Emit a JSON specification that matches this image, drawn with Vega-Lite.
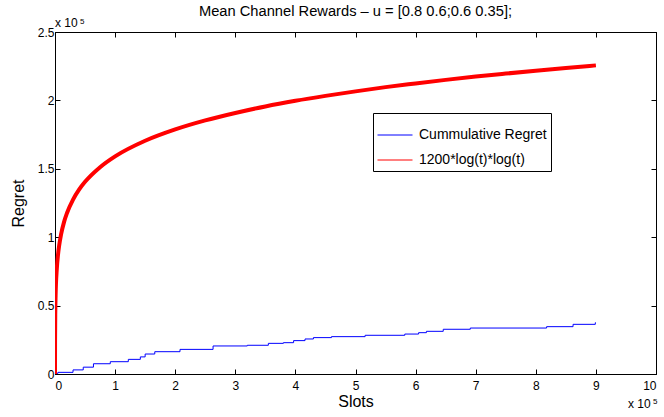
{
  "$schema": "https://vega.github.io/schema/vega-lite/v6.json",
  "width": 601,
  "height": 342,
  "autosize": "none",
  "padding": {"left": 55, "top": 32, "right": 8, "bottom": 43},
  "background": "white",
  "config": {
    "font": "Liberation Sans",
    "view": {"stroke": "black", "strokeWidth": 1},
    "axis": {
      "grid": false,
      "domainColor": "black",
      "tickColor": "black",
      "labelColor": "black",
      "titleColor": "black",
      "labelFont": "Liberation Sans",
      "titleFont": "Liberation Sans",
      "labelFontSize": 12,
      "titleFontSize": 16,
      "titleFontWeight": "normal",
      "tickSize": -5
    },
    "legend": {
      "labelFont": "Liberation Sans"
    }
  },
  "title": {
    "text": "Mean Channel Rewards – u = [0.8 0.6;0.6 0.35];",
    "fontSize": 14.7,
    "fontWeight": "normal",
    "font": "Liberation Sans",
    "color": "black",
    "anchor": "middle",
    "offset": -2
  },
  "datasets": {
    "red": [
      {"x": 0.00001, "y": 0, "series": "1200*log(t)*log(t)"},
      {"x": 0.0001, "y": 0.0636, "series": "1200*log(t)*log(t)"},
      {"x": 0.001, "y": 0.2545, "series": "1200*log(t)*log(t)"},
      {"x": 0.005, "y": 0.4635, "series": "1200*log(t)*log(t)"},
      {"x": 0.01, "y": 0.5726, "series": "1200*log(t)*log(t)"},
      {"x": 0.03, "y": 0.769, "series": "1200*log(t)*log(t)"},
      {"x": 0.05, "y": 0.871, "series": "1200*log(t)*log(t)"},
      {"x": 0.07, "y": 0.941, "series": "1200*log(t)*log(t)"},
      {"x": 0.1, "y": 1.018, "series": "1200*log(t)*log(t)"},
      {"x": 0.15, "y": 1.11, "series": "1200*log(t)*log(t)"},
      {"x": 0.2, "y": 1.177, "series": "1200*log(t)*log(t)"},
      {"x": 0.3, "y": 1.275, "series": "1200*log(t)*log(t)"},
      {"x": 0.4, "y": 1.348, "series": "1200*log(t)*log(t)"},
      {"x": 0.5, "y": 1.405, "series": "1200*log(t)*log(t)"},
      {"x": 0.75, "y": 1.512, "series": "1200*log(t)*log(t)"},
      {"x": 1, "y": 1.591, "series": "1200*log(t)*log(t)"},
      {"x": 1.5, "y": 1.705, "series": "1200*log(t)*log(t)"},
      {"x": 2, "y": 1.788, "series": "1200*log(t)*log(t)"},
      {"x": 2.5, "y": 1.854, "series": "1200*log(t)*log(t)"},
      {"x": 3, "y": 1.908, "series": "1200*log(t)*log(t)"},
      {"x": 3.5, "y": 1.956, "series": "1200*log(t)*log(t)"},
      {"x": 4, "y": 1.997, "series": "1200*log(t)*log(t)"},
      {"x": 4.5, "y": 2.033, "series": "1200*log(t)*log(t)"},
      {"x": 5, "y": 2.066, "series": "1200*log(t)*log(t)"},
      {"x": 5.5, "y": 2.097, "series": "1200*log(t)*log(t)"},
      {"x": 6, "y": 2.124, "series": "1200*log(t)*log(t)"},
      {"x": 6.5, "y": 2.15, "series": "1200*log(t)*log(t)"},
      {"x": 7, "y": 2.174, "series": "1200*log(t)*log(t)"},
      {"x": 7.5, "y": 2.196, "series": "1200*log(t)*log(t)"},
      {"x": 8, "y": 2.217, "series": "1200*log(t)*log(t)"},
      {"x": 8.5, "y": 2.237, "series": "1200*log(t)*log(t)"},
      {"x": 9, "y": 2.256, "series": "1200*log(t)*log(t)"}
    ],
    "blue": [
      {"x": 0, "y": 0.005, "series": "Cummulative Regret"},
      {"x": 0.05, "y": 0.012, "series": "Cummulative Regret"},
      {"x": 0.3, "y": 0.03, "series": "Cummulative Regret"},
      {"x": 0.47, "y": 0.05, "series": "Cummulative Regret"},
      {"x": 0.64, "y": 0.075, "series": "Cummulative Regret"},
      {"x": 0.92, "y": 0.09, "series": "Cummulative Regret"},
      {"x": 1.22, "y": 0.107, "series": "Cummulative Regret"},
      {"x": 1.42, "y": 0.125, "series": "Cummulative Regret"},
      {"x": 1.5, "y": 0.146, "series": "Cummulative Regret"},
      {"x": 1.66, "y": 0.163, "series": "Cummulative Regret"},
      {"x": 2.08, "y": 0.18, "series": "Cummulative Regret"},
      {"x": 2.63, "y": 0.205, "series": "Cummulative Regret"},
      {"x": 3.2, "y": 0.21, "series": "Cummulative Regret"},
      {"x": 3.55, "y": 0.224, "series": "Cummulative Regret"},
      {"x": 3.8, "y": 0.229, "series": "Cummulative Regret"},
      {"x": 3.97, "y": 0.244, "series": "Cummulative Regret"},
      {"x": 4.16, "y": 0.256, "series": "Cummulative Regret"},
      {"x": 4.3, "y": 0.266, "series": "Cummulative Regret"},
      {"x": 4.6, "y": 0.273, "series": "Cummulative Regret"},
      {"x": 5.16, "y": 0.283, "series": "Cummulative Regret"},
      {"x": 5.82, "y": 0.292, "series": "Cummulative Regret"},
      {"x": 6.05, "y": 0.302, "series": "Cummulative Regret"},
      {"x": 6.18, "y": 0.312, "series": "Cummulative Regret"},
      {"x": 6.46, "y": 0.327, "series": "Cummulative Regret"},
      {"x": 6.91, "y": 0.336, "series": "Cummulative Regret"},
      {"x": 8.18, "y": 0.346, "series": "Cummulative Regret"},
      {"x": 8.62, "y": 0.363, "series": "Cummulative Regret"},
      {"x": 8.99, "y": 0.375, "series": "Cummulative Regret"},
      {"x": 9.0, "y": 0.375, "series": "Cummulative Regret"}
    ]
  },
  "layer": [
    {
      "data": {"name": "blue"},
      "mark": {"type": "line", "strokeWidth": 1, "interpolate": "step-after", "clip": true},
      "encoding": {
        "x": {
          "field": "x", "type": "quantitative",
          "scale": {"domain": [0, 10], "nice": false, "zero": false},
          "axis": {"orient": "bottom", "title": "Slots", "values": [0,1,2,3,4,5,6,7,8,9,10], "format": "d", "labelPadding": 11, "titlePadding": 2}
        },
        "y": {
          "field": "y", "type": "quantitative",
          "scale": {"domain": [0, 2.5], "nice": false, "zero": false},
          "axis": {"orient": "left", "title": "Regret", "values": [0,0.5,1,1.5,2,2.5], "labelExpr": "datum.value + ''", "labelPadding": 6, "titlePadding": 11}
        },
        "color": {
          "field": "series", "type": "nominal",
          "scale": {"domain": ["Cummulative Regret", "1200*log(t)*log(t)"], "range": ["#0000ff", "#ff0000"]},
          "legend": {
            "title": null,
            "orient": "none",
            "legendX": 318,
            "legendY": 81,
            "strokeColor": "black",
            "fillColor": "white",
            "padding": 4,
            "labelFontSize": 14,
            "labelColor": "black",
            "symbolType": "stroke",
            "symbolSize": 1225,
            "symbolStrokeWidth": 1,
            "rowPadding": 0,
            "labelOffset": 6
          }
        }
      }
    },
    {
      "data": {"name": "red"},
      "mark": {"type": "line", "strokeWidth": 4, "interpolate": "monotone", "clip": true},
      "encoding": {
        "x": {"field": "x", "type": "quantitative", "axis": {"orient": "top", "labels": false, "title": null, "values": [0,1,2,3,4,5,6,7,8,9,10]}},
        "y": {"field": "y", "type": "quantitative", "axis": {"orient": "right", "labels": false, "title": null, "values": [0,0.5,1,1.5,2,2.5]}},
        "color": {"field": "series", "type": "nominal"}
      }
    },
    {
      "data": {"values": [{"x": 0, "y": 2.5, "label": "x 10"}]},
      "mark": {"type": "text", "align": "left", "baseline": "alphabetic", "dx": 0, "dy": -5, "fontSize": 12, "color": "black", "font": "Liberation Sans"},
      "encoding": {
        "x": {"field": "x", "type": "quantitative", "axis": null},
        "y": {"field": "y", "type": "quantitative", "axis": null},
        "text": {"field": "label"}
      }
    },
    {
      "data": {"values": [{"x": 0, "y": 2.5, "label": "5"}]},
      "mark": {"type": "text", "align": "left", "baseline": "alphabetic", "dx": 25, "dy": -8, "fontSize": 8, "color": "black", "font": "Liberation Sans"},
      "encoding": {
        "x": {"field": "x", "type": "quantitative", "axis": null},
        "y": {"field": "y", "type": "quantitative", "axis": null},
        "text": {"field": "label"}
      }
    },
    {
      "data": {"values": [{"x": 10, "y": 0, "label": "x 10"}]},
      "mark": {"type": "text", "align": "left", "baseline": "alphabetic", "dx": -28, "dy": 34, "fontSize": 12, "color": "black", "font": "Liberation Sans"},
      "encoding": {
        "x": {"field": "x", "type": "quantitative", "axis": null},
        "y": {"field": "y", "type": "quantitative", "axis": null},
        "text": {"field": "label"}
      }
    },
    {
      "data": {"values": [{"x": 10, "y": 0, "label": "5"}]},
      "mark": {"type": "text", "align": "left", "baseline": "alphabetic", "dx": -3, "dy": 30, "fontSize": 8, "color": "black", "font": "Liberation Sans"},
      "encoding": {
        "x": {"field": "x", "type": "quantitative", "axis": null},
        "y": {"field": "y", "type": "quantitative", "axis": null},
        "text": {"field": "label"}
      }
    }
  ],
  "resolve": {"axis": {"x": "independent", "y": "independent"}}
}
